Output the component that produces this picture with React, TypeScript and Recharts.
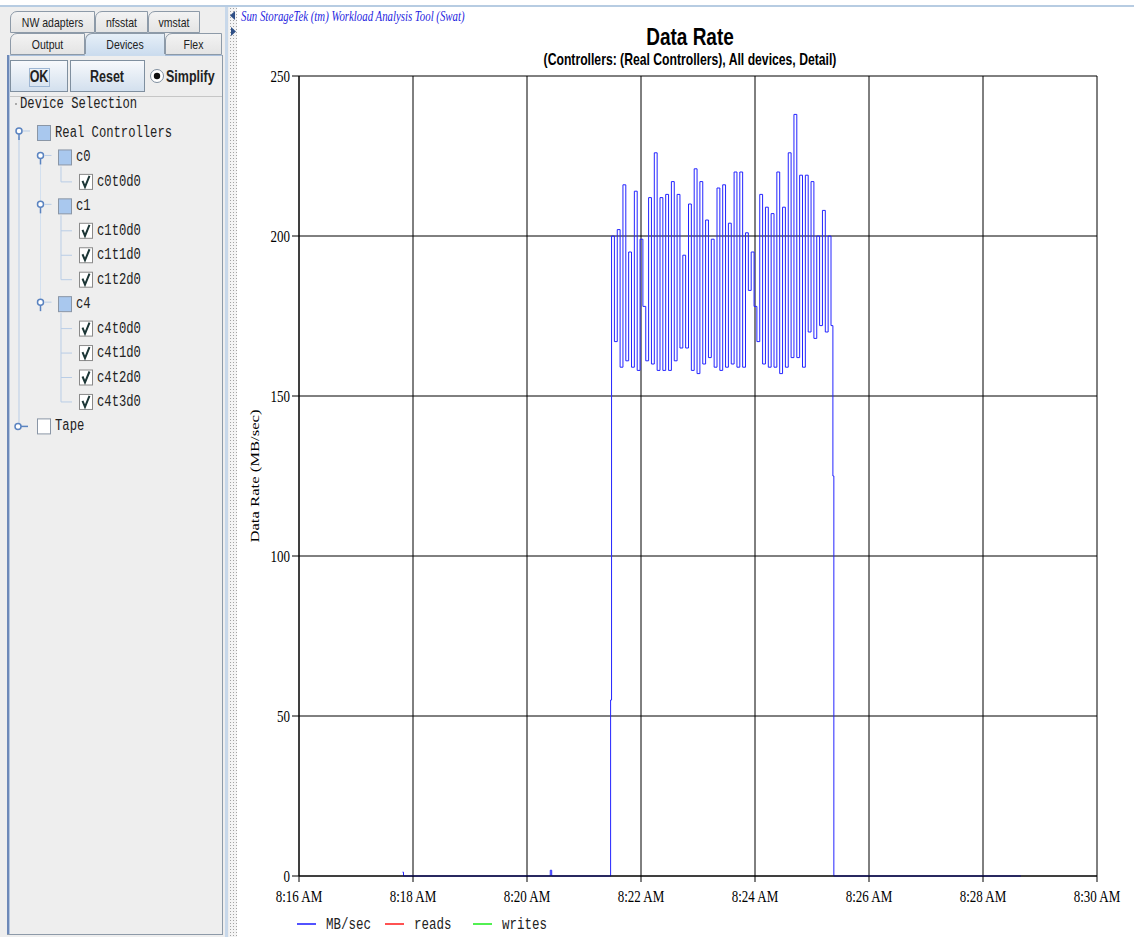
import React from 'react';
import { LineChart, Line, XAxis, YAxis, CartesianGrid } from 'recharts';

// the captured window is stretched vertically, so glyphs are drawn taller than wide
const STRETCH = 1.28;
const SANS = '"Liberation Sans", Arial, sans-serif';
const SERIF = '"Liberation Serif", "Times New Roman", serif';
const MONO = '"Liberation Mono", "Courier New", monospace';

const timeLabels = ['8:16 AM', '8:18 AM', '8:20 AM', '8:22 AM', '8:24 AM', '8:26 AM', '8:28 AM', '8:30 AM'];
const rateTicks = [0, 50, 100, 150, 200, 250];

// [seconds after 8:16:00, MB/sec]
const quietBefore: [number, number][] = [
    [109, 1.2], [110, 0], [263, 0], [264.5, 1.8], [266, 0], [327, 0], [328, 55],
];

// busy period: one sample every 3 s starting 8:21:29
const burstStart = 329;
const burstStep = 3;
const burstRate = [
    200, 167, 202, 159, 216, 161, 195, 159, 214, 158,
    199, 178, 161, 212, 160, 226, 158, 212, 158, 213,
    158, 217, 161, 213, 165, 194, 165, 210, 158, 221,
    157, 217, 160, 205, 162, 199, 159, 215, 158, 216,
    159, 204, 160, 220, 159, 220, 159, 201, 183, 195,
    178, 167, 213, 160, 209, 159, 207, 159, 220, 157,
    209, 159, 226, 162, 238, 162, 219, 159, 219, 170,
    217, 168, 200, 172, 208, 170, 200, 172,
];

const quietAfter: [number, number][] = [[562, 125], [563, 0], [760, 0]];

const legendNames = ['MB/sec', 'reads', 'writes'];
const legendColors = ['#5252ff', '#ff5252', '#52f052'];

const upperTabs = ['NW adapters', 'nfsstat', 'vmstat'];
const lowerTabs = ['Output', 'Devices', 'Flex'];
const treeLabels = ['Real Controllers', 'c0', 'c0t0d0', 'c1', 'c1t0d0', 'c1t1d0', 'c1t2d0', 'c4', 'c4t0d0', 'c4t1d0', 'c4t2d0', 'c4t3d0', 'Tape'];
const treeLevels = [0, 1, 2, 1, 2, 2, 2, 1, 2, 2, 2, 2, 0];

const toSeconds = (label: string) => {
    const [h, m] = label.split(' ')[0].split(':').map(Number);
    return (h * 60 + m - (8 * 60 + 16)) * 60;
};
const timeTicks = timeLabels.map(toSeconds);

const series = [
    ...quietBefore.map(([t, rate]) => ({ t, rate })),
    ...burstRate.map((rate, i) => ({ t: burstStart + i * burstStep, rate })),
    ...quietAfter.map(([t, rate]) => ({ t, rate })),
];

// eslint-disable-next-line @typescript-eslint/no-explicit-any
const TimeTick = (props: any) => {
    const { x, y, payload } = props;
    const label = timeLabels[timeTicks.indexOf(payload.value)];
    return (
        <text transform={`translate(${x},${y}) scale(1,${STRETCH})`} textAnchor="middle" dy="0.71em"
            fontFamily={SERIF} fontSize={13} fill="#000">
            {label}
        </text>
    );
};

// eslint-disable-next-line @typescript-eslint/no-explicit-any
const RateTick = (props: any) => {
    const { x, y, payload } = props;
    return (
        <text transform={`translate(${x},${y}) scale(1,${STRETCH})`} textAnchor="end" dy="0.355em"
            fontFamily={SERIF} fontSize={13} fill="#000">
            {payload.value}
        </text>
    );
};

// eslint-disable-next-line @typescript-eslint/no-explicit-any
const Txt = ({ x, y, children, size = 12, family = SANS, weight = 400, anchor = 'left', color = '#000' }: any) => {
    const tx = anchor === 'center' ? '-50%' : anchor === 'right' ? '-100%' : '0';
    return (
        <div style={{
            position: 'absolute', left: x, top: y, transform: `translate(${tx},-50%) scaleY(${STRETCH})`,
            fontSize: size, fontFamily: family, fontWeight: weight, lineHeight: 1, whiteSpace: 'nowrap', color,
        }}>
            {children}
        </div>
    );
};

const tabStyle = (left: number, top: number, width: number, selected: boolean): React.CSSProperties => ({
    position: 'absolute', left, top, width, height: 22, boxSizing: 'border-box',
    border: '1px solid #8d9aa8', borderBottom: selected ? 'none' : '1px solid #8d9aa8',
    borderTopLeftRadius: 7,
    background: selected ? 'linear-gradient(#e6eff8, #cbdcee)' : 'linear-gradient(#f3f3f3, #e4e4e4)',
});

const buttonStyle = (left: number, width: number): React.CSSProperties => ({
    position: 'absolute', left, top: 60, width, height: 32, boxSizing: 'border-box',
    border: '1px solid #7f8f9f', background: 'linear-gradient(#f7f9fc, #d3e0ee)',
});

function DeviceTree() {
    const rowY = (i: number) => 133 + i * 24.45;
    const groups = [0, 1, 3, 7, 12];
    return (
        <>
            <svg width={222} height={460} style={{ position: 'absolute', left: 0, top: 0 }}>
                <line x1={19} y1={rowY(0) + 4} x2={19} y2={rowY(12) - 3} stroke="#b9cde6" />
                <line x1={40.5} y1={rowY(1) + 4} x2={40.5} y2={rowY(7) - 3} stroke="#d3e0ef" />
                {[[1, 2], [3, 6], [7, 11]].map(([p, last]) => (
                    <line key={p} x1={61} y1={rowY(p) + 9} x2={61} y2={rowY(last)} stroke="#b9cde6" />
                ))}
                {treeLabels.map((_, i) => {
                    const lvl = treeLevels[i];
                    const y = rowY(i);
                    const bx = 37 + lvl * 21;
                    if (lvl === 2) {
                        return (
                            <g key={i}>
                                <line x1={61} y1={y} x2={72} y2={y} stroke="#b9cde6" />
                                <rect x={bx + 0.5} y={y - 7.5} width={13} height={15} fill="#fff" stroke="#8a8a8a" />
                                <path d={`M${bx + 3.5} ${y - 1} L${bx + 6} ${y + 5} L${bx + 10.5} ${y - 6}`} fill="none" stroke="#1c3636" strokeWidth={2} />
                            </g>
                        );
                    }
                    const hx = 19 + lvl * 21.5;
                    const open = i !== 12;
                    return (
                        <g key={i}>
                            {open ? (
                                <>
                                    <circle cx={hx} cy={y - 2} r={3} fill="#fff" stroke="#5a83c0" strokeWidth={1.5} />
                                    <line x1={hx} y1={y + 1} x2={hx} y2={y + 7} stroke="#5a83c0" strokeWidth={1.5} />
                                    <line x1={hx + 4} y1={y - 2} x2={hx + 11} y2={y - 2} stroke="#b9cde6" />
                                </>
                            ) : (
                                <>
                                    <circle cx={hx - 1} cy={y} r={3} fill="#fff" stroke="#5a83c0" strokeWidth={1.5} />
                                    <line x1={hx + 2} y1={y} x2={hx + 9} y2={y} stroke="#5a83c0" strokeWidth={1.5} />
                                </>
                            )}
                            <rect x={bx + 0.5} y={y - 7.5} width={13} height={15}
                                fill={groups.includes(i) && i !== 12 ? '#a9c8ee' : '#fff'} stroke="#8a96a6" />
                        </g>
                    );
                })}
            </svg>
            {treeLabels.map((label, i) => (
                <Txt key={label} x={55 + treeLevels[i] * 21} y={rowY(i)} size={12.2} family={MONO} color="#222">{label}</Txt>
            ))}
        </>
    );
}

function SidePanel() {
    const upperPos = [[10, 85], [95, 53], [148, 52]];
    const lowerPos = [[10, 75], [85, 80], [165, 57]];
    return (
        <div style={{ position: 'absolute', left: 0, top: 7, width: 237, height: 930, background: '#eeeeee' }}>
            <div style={{ position: 'absolute', left: 0, top: -7, width: 237, height: 937 }}>
                {upperTabs.map((name, i) => (
                    <div key={name} style={tabStyle(upperPos[i][0], 11, upperPos[i][1], false)} />
                ))}
                {lowerTabs.map((name, i) => (
                    <div key={name} style={tabStyle(lowerPos[i][0], 33, lowerPos[i][1], name === 'Devices')} />
                ))}
                {upperTabs.map((name, i) => (
                    <Txt key={name} x={upperPos[i][0] + upperPos[i][1] / 2} y={22} size={10.5} anchor="center" color="#222">{name}</Txt>
                ))}
                {lowerTabs.map((name, i) => (
                    <Txt key={name} x={lowerPos[i][0] + lowerPos[i][1] / 2} y={44} size={10.5} anchor="center" color="#222">{name}</Txt>
                ))}
                {/* panel frame */}
                <div style={{ position: 'absolute', left: 85, top: 54, width: 80, height: 2, background: '#cbdcee' }} />
                <div style={{ position: 'absolute', left: 10, top: 55, width: 75, height: 1, background: '#a9bfdb' }} />
                <div style={{ position: 'absolute', left: 165, top: 55, width: 57, height: 1, background: '#a9bfdb' }} />
                <div style={{ position: 'absolute', left: 7, top: 55, width: 2, height: 880, background: '#6d89b8' }} />
                <div style={{ position: 'absolute', left: 9, top: 55, width: 1, height: 880, background: '#b3c5df' }} />
                <div style={{ position: 'absolute', left: 222, top: 55, width: 1, height: 880, background: '#8d9aa8' }} />
                <div style={{ position: 'absolute', left: 7, top: 934, width: 216, height: 1, background: '#8d9aa8' }} />
                {/* buttons */}
                <div style={buttonStyle(10, 58)} />
                <div style={{ position: 'absolute', left: 29, top: 68, width: 21, height: 19, border: '1px solid #9db6d4', boxSizing: 'border-box' }} />
                <div style={buttonStyle(70, 75)} />
                <Txt x={39} y={77} size={12.5} weight={700} anchor="center" color="#222">OK</Txt>
                <Txt x={107} y={77} size={12.5} weight={700} anchor="center" color="#222">Reset</Txt>
                <svg width={16} height={16} style={{ position: 'absolute', left: 149, top: 68 }}>
                    <circle cx={8} cy={8} r={6.5} fill="#fff" stroke="#7f8f9f" />
                    <circle cx={8} cy={8} r={3.2} fill="#111" />
                </svg>
                <Txt x={166} y={77} size={12.5} weight={700} color="#222">Simplify</Txt>
                {/* device selection */}
                <div style={{ position: 'absolute', left: 10, top: 96, width: 212, height: 1, background: '#c6c6c6' }} />
                <div style={{ position: 'absolute', left: 15, top: 103, width: 2, height: 2, background: '#aaa' }} />
                <Txt x={20} y={104} size={12.2} family={MONO} color="#222">Device Selection</Txt>
                <DeviceTree />
                {/* split pane divider */}
                <div style={{ position: 'absolute', left: 225, top: 7, width: 3, height: 930, background: '#c8d8ea' }} />
                <div style={{
                    position: 'absolute', left: 229, top: 7, width: 8, height: 930, background: '#f4f4f4',
                    backgroundImage: 'radial-gradient(circle, #a3a3a3 0.7px, transparent 1px)', backgroundSize: '3px 3px',
                }} />
                <svg width={8} height={30} style={{ position: 'absolute', left: 229, top: 9 }}>
                    <polygon points="6,2 1,6.5 6,11" fill="#2e4f86" />
                    <polygon points="2,18 7,22.5 2,27" fill="#2e4f86" />
                </svg>
            </div>
        </div>
    );
}

export default function App() {
    return (
        <div style={{ position: 'fixed', left: 0, top: 0, width: 1134, height: 937, background: '#fff', overflow: 'hidden' }}>
            <div style={{ position: 'absolute', left: 0, top: 5, width: 1134, height: 2, background: '#b7cce2' }} />
            <SidePanel />

            <Txt x={241} y={16} size={10.8} family={SERIF} color="#1f1fe0">
                <i>Sun StorageTek (tm) Workload Analysis Tool (Swat)</i>
            </Txt>
            <Txt x={690} y={37} size={19} weight={700} anchor="center">Data Rate</Txt>
            <Txt x={690} y={60} size={12.2} weight={700} anchor="center">(Controllers: (Real Controllers), All devices, Detail)</Txt>
            <div style={{
                position: 'absolute', left: 254, top: 476, transform: `translate(-50%,-50%) rotate(-90deg) scale(${STRETCH},1)`,
                fontFamily: SERIF, fontSize: 13, lineHeight: 1, whiteSpace: 'nowrap',
            }}>
                Data Rate (MB/sec)
            </div>

            <div style={{ position: 'absolute', left: 237, top: 8 }}>
                <LineChart width={897} height={929} data={series} margin={{ top: 68, right: 37, bottom: 31, left: 12 }}>
                    <CartesianGrid stroke="#000" />
                    <XAxis dataKey="t" type="number" domain={[0, 840]} ticks={timeTicks} interval={0} height={30}
                        tick={<TimeTick />} tickSize={6} tickMargin={8} axisLine={{ stroke: '#000' }} tickLine={{ stroke: '#000' }} />
                    <YAxis type="number" domain={[0, 250]} ticks={rateTicks} interval={0} width={50}
                        tick={<RateTick />} tickSize={7} tickMargin={2} axisLine={{ stroke: '#000' }} tickLine={{ stroke: '#000' }} />
                    <Line dataKey="rate" type="stepAfter" stroke="#2424ff" strokeWidth={1} dot={false} isAnimationActive={false} />
                </LineChart>
            </div>

            {legendNames.map((name, i) => {
                const lx = [297, 385, 473][i];
                return (
                    <React.Fragment key={name}>
                        <div style={{ position: 'absolute', left: lx, top: 923, width: 19, height: 2, background: legendColors[i] }} />
                        <Txt x={lx + 29} y={925} size={12.5} family={MONO} color="#222">{name}</Txt>
                    </React.Fragment>
                );
            })}
        </div>
    );
}
